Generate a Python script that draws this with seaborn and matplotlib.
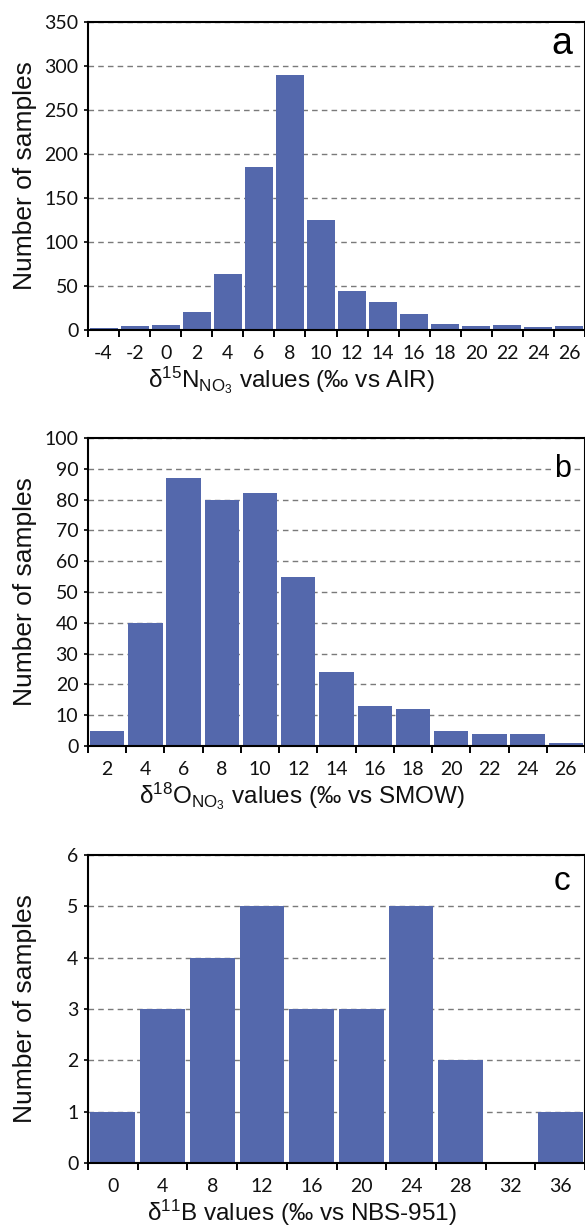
import matplotlib

matplotlib.use("Agg")

import matplotlib.pyplot as plt
import numpy as np
import seaborn as sns

# panel a: delta15N of nitrate
n15_bins = ["-4", "-2", "0", "2", "4", "6", "8", "10", "12", "14", "16", "18", "20", "22", "24", "26"]
n15_counts = [2, 5, 6, 20, 64, 185, 290, 125, 44, 32, 18, 7, 5, 6, 3, 5]

# panel b: delta18O of nitrate
o18_bins = ["2", "4", "6", "8", "10", "12", "14", "16", "18", "20", "22", "24", "26"]
o18_counts = [5, 40, 87, 80, 82, 55, 24, 13, 12, 5, 4, 4, 1]

# panel c: delta11B
b11_bins = ["0", "4", "8", "12", "16", "20", "24", "28", "32", "36"]
b11_counts = [1, 3, 4, 5, 3, 3, 5, 2, 0, 1]

BAR_COLOR = "#5468ac"
TICK_FONT = "Lato"
LABEL_FONT = "Liberation Sans"

sns.set_style("white")
plt.rcParams["font.family"] = [LABEL_FONT, "DejaVu Sans"]
plt.rcParams["mathtext.fontset"] = "custom"
plt.rcParams["mathtext.rm"] = LABEL_FONT
plt.rcParams["mathtext.it"] = LABEL_FONT + ":italic"


def draw_panel(ax, bins, counts, ymax, ystep, letter, letter_y, letter_size, xlabel, xlabel_x):
    sns.barplot(x=bins, y=counts, color=BAR_COLOR, saturation=1, width=0.9,
                errorbar=None, linewidth=0, ax=ax)
    n = len(bins)
    ax.set_xlim(-0.5, n - 0.5)
    ax.set_ylim(0, ymax)
    ax.set_yticks(np.arange(0, ymax + ystep / 2, ystep))
    ax.set_xticks(np.arange(-0.5, n, 1), minor=True)

    ax.yaxis.grid(True, linestyle=(0, (4, 3)), color="#7a7a7a", linewidth=1)
    ax.xaxis.grid(False)
    ax.set_axisbelow(True)

    for side in ["left", "bottom", "top", "right"]:
        ax.spines[side].set_visible(True)
        ax.spines[side].set_color("black")
        ax.spines[side].set_linewidth(1.5)

    ax.tick_params(axis="x", which="major", length=0, pad=11)
    ax.tick_params(axis="x", which="minor", length=5, width=1.4, color="black", direction="out", bottom=True)
    ax.tick_params(axis="y", which="major", length=3, width=1.2, color="black", direction="out", left=True, pad=4)
    for lab in ax.get_xticklabels() + ax.get_yticklabels():
        lab.set_fontfamily(TICK_FONT)
        lab.set_fontsize(14)
        lab.set_color("#111111")

    ax.set_ylabel("Number of samples", fontsize=19, color="#111111")
    ax.yaxis.set_label_coords(-0.103, 0.5)
    ax.set_xlabel(xlabel, fontsize=17.5, color="#111111")
    ax.xaxis.set_label_coords(xlabel_x, -0.112)

    ax.text(0.954, letter_y, letter, transform=ax.transAxes, ha="center", va="center",
            fontsize=letter_size, color="black",
            bbox=dict(facecolor="white", edgecolor="none", pad=2))


fig = plt.figure(figsize=(5.85, 12.3), dpi=100)
left = 88 / 585
width = 497 / 585
height = 308 / 1230

ax_a = fig.add_axes([left, 0.7317, width, height])
ax_b = fig.add_axes([left, 0.3935, width, height])
ax_c = fig.add_axes([left, 0.0545, width, height])

draw_panel(ax_a, n15_bins, n15_counts, 350, 50, "a", 0.929, 27,
           r"δ$^{15}$N$_{\mathrm{NO}_3}$ values (‰ vs AIR)", 0.41)
draw_panel(ax_b, o18_bins, o18_counts, 100, 10, "b", 0.90, 22,
           r"δ$^{18}$O$_{\mathrm{NO}_3}$ values (‰ vs SMOW)", 0.43)
draw_panel(ax_c, b11_bins, b11_counts, 6, 1, "c", 0.915, 24,
           r"δ$^{11}$B values (‰ vs NBS-951)", 0.43)

fig.savefig("out.png", dpi=100)
